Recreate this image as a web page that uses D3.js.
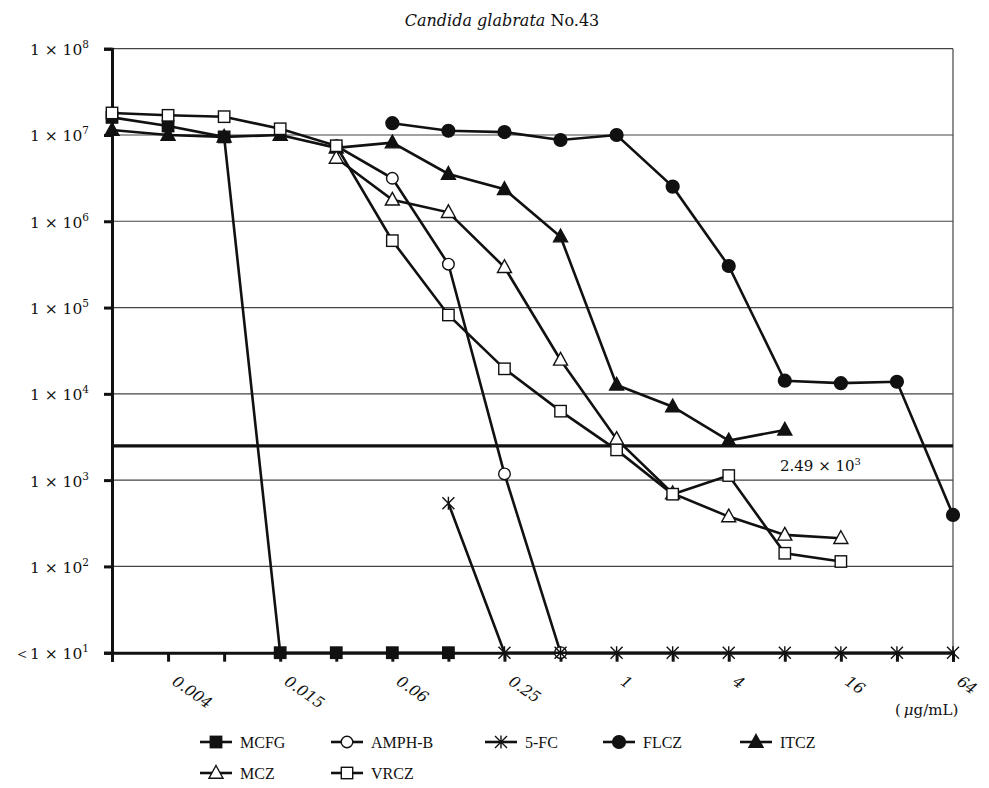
<!DOCTYPE html>
<html><head><meta charset="utf-8">
<script src="https://cdn.jsdelivr.net/npm/d3@7/dist/d3.min.js"></script>
<style>body{margin:0;background:#fff} svg{display:block}</style>
</head><body>
<svg id="chart" width="989" height="788"></svg>
<script>
// ---------- data ----------
const concentrations = ["0.002","0.004","0.008","0.015","0.03","0.06","0.125","0.25","0.5","1","2","4","8","16","32","64"];
const tickLabels = ["0.004","0.015","0.06","0.25","1","4","16","64"];
const yTickValues = [1e1,1e2,1e3,1e4,1e5,1e6,1e7,1e8];
const threshold = 2490;
const thresholdText = ["2.49 × 10", "3"];
const unitText = "g/mL";

const MCFG  = [1.6e7,1.27e7,9.5e6,10,10,10,10,null,null,null,null,null,null,null,null,null];
const AMPHB = [null,null,null,null,7.5e6,3.15e6,3.18e5,1.18e3,10,null,null,null,null,null,null,null];
const FC5   = [null,null,null,null,null,null,540,10,10,10,10,10,10,10,10,10];
const FLCZ  = [null,null,null,null,null,1.37e7,1.12e7,1.08e7,8.75e6,1.0e7,2.52e6,3.03e5,1.42e4,1.33e4,1.38e4,395];
const ITCZ  = [1.14e7,1.0e7,9.5e6,1.0e7,7.1e6,8.15e6,3.53e6,2.35e6,6.63e5,1.27e4,7.1e3,2.87e3,3.82e3,null,null,null];
const MCZ   = [null,null,null,null,5.4e6,1.77e6,1.27e6,2.93e5,2.47e4,2.98e3,700,378,232,212,null,null];
const VRCZ  = [1.8e7,1.69e7,1.63e7,1.18e7,7.5e6,5.96e5,8.2e4,1.95e4,6.3e3,2.24e3,687,1.13e3,142,114,null,null];

const seriesNames = ["MCFG","AMPH-B","5-FC","FLCZ","ITCZ","MCZ","VRCZ"];
const seriesValues = [MCFG,AMPHB,FC5,FLCZ,ITCZ,MCZ,VRCZ];
const seriesMarkers = ["squareFilled","circleOpen","star","circleFilled","triangleFilled","triangleOpen","squareOpen"];

// ---------- layout ----------
const svg = d3.select("#chart");
const FONT = "'DejaVu Serif',serif";
const LFONT = "'Liberation Serif','Times New Roman',serif";
const pLeft = 112, pRight = 953, pTop = 48.7, pBottom = 652.7;

const x = d3.scalePoint().domain(concentrations).range([pLeft, pRight]);
const y = d3.scaleLog().domain([10, 1e8]).range([pBottom, pTop]);

// title
const title = svg.append("text").attr("x", 502).attr("y", 26).attr("text-anchor","middle")
  .attr("font-family", FONT).attr("font-size", 16).attr("fill","#111");
title.append("tspan").attr("font-style","italic").text("Candida glabrata");
title.append("tspan").text(" No.43");

// gridlines
svg.append("g").selectAll("line").data(yTickValues.filter(v => v > 10)).join("line")
  .attr("x1", pLeft).attr("x2", pRight).attr("y1", d => y(d)).attr("y2", d => y(d))
  .attr("stroke", "#444").attr("stroke-width", 1.2);
// right border
svg.append("line").attr("x1", pRight).attr("x2", pRight).attr("y1", pTop).attr("y2", pBottom)
  .attr("stroke", "#444").attr("stroke-width", 1.2);

// threshold
svg.append("line").attr("x1", pLeft).attr("x2", pRight).attr("y1", y(threshold)).attr("y2", y(threshold))
  .attr("stroke", "#111").attr("stroke-width", 3.2);
const tl = svg.append("text").attr("x", 780).attr("y", y(threshold) + 25.5)
  .attr("font-family", FONT).attr("font-size", 15).attr("fill", "#111");
tl.append("tspan").text(thresholdText[0]);
tl.append("tspan").attr("font-size", 10).attr("dy", -6).text(thresholdText[1]);

// y axis
const yAxisG = svg.append("g").attr("transform", `translate(${pLeft},0)`)
  .call(d3.axisLeft(y).tickValues(yTickValues).tickSize(8).tickFormat(""));
yAxisG.select(".domain").attr("stroke", "#111").attr("stroke-width", 3);
yAxisG.selectAll(".tick line").attr("stroke", "#111").attr("stroke-width", 3);

const ylab = svg.append("g").selectAll("text").data(yTickValues).join("text")
  .attr("x", 89).attr("y", d => y(d) + 6.5).attr("text-anchor", "end")
  .attr("font-family", FONT).attr("font-size", 15.5).attr("fill", "#111");
ylab.each(function(d, i) {
  const t = d3.select(this);
  t.append("tspan").text((i === 0 ? "＜" : "") + "1 × 10");
  t.append("tspan").attr("font-size", 10.5).attr("dy", -7).text(Math.round(Math.log10(d)));
});

// x axis
const xAxisG = svg.append("g").attr("transform", `translate(0,${pBottom})`)
  .call(d3.axisBottom(x).tickSize(9).tickFormat(""));
xAxisG.select(".domain").attr("stroke", "#111").attr("stroke-width", 3);
xAxisG.selectAll(".tick line").attr("stroke", "#111").attr("stroke-width", 3);

svg.append("g").selectAll("text").data(tickLabels).join("text")
  .attr("transform", d => `translate(${x(d) + 3},${pBottom + 31}) rotate(35)`)
  .attr("font-family", FONT).attr("font-style", "italic").attr("font-size", 15.5).attr("fill", "#111")
  .text(d => d);

const unit = svg.append("text").attr("x", 895).attr("y", 715)
  .attr("font-family", FONT).attr("font-size", 15).attr("fill", "#111");
unit.append("tspan").text("(");
unit.append("tspan").attr("font-style", "italic").attr("dx", 3).text("μ");
unit.append("tspan").text(unitText + ")");

// markers
function drawMarker(sel, type) {
  const stroke = "#111";
  if (type === "squareFilled" || type === "squareOpen") {
    sel.append("rect").attr("x", -5.7).attr("y", -5.7).attr("width", 11.4).attr("height", 11.4)
      .attr("fill", type === "squareFilled" ? stroke : "#fff").attr("stroke", stroke).attr("stroke-width", 1.4);
  } else if (type === "circleFilled" || type === "circleOpen") {
    sel.append("circle").attr("r", type === "circleFilled" ? 6.4 : 5.8)
      .attr("fill", type === "circleFilled" ? stroke : "#fff").attr("stroke", stroke).attr("stroke-width", 1.4);
  } else if (type === "triangleFilled" || type === "triangleOpen") {
    sel.append("path").attr("d", "M0,-7.5L7,5.2L-7,5.2Z")
      .attr("fill", type === "triangleFilled" ? stroke : "#fff").attr("stroke", stroke).attr("stroke-width", 1.4);
  } else if (type === "star") {
    sel.append("path").attr("d", "M-6,-6L6,6M-6,6L6,-6M0,-6.5L0,6.5")
      .attr("fill", "none").attr("stroke", stroke).attr("stroke-width", 1.4);
  }
}

const line = d3.line().defined(d => d.v != null).x(d => x(d.c)).y(d => y(d.v));

seriesNames.forEach((name, si) => {
  const pts = seriesValues[si].map((v, i) => ({ c: concentrations[i], v }));
  const g = svg.append("g");
  g.append("path").attr("d", line(pts)).attr("fill", "none").attr("stroke", "#111").attr("stroke-width", 2.6);
  g.selectAll("g").data(pts.filter(d => d.v != null)).join("g")
    .attr("transform", d => `translate(${x(d.c)},${y(d.v)})`)
    .each(function() { drawMarker(d3.select(this), seriesMarkers[si]); });
});

// legend
const legendPos = [[200,742],[331,742],[485,742],[603,742],[740,742],[200,773],[331,773]];
seriesNames.forEach((name, si) => {
  const [lx, ly] = legendPos[si];
  const g = svg.append("g").attr("transform", `translate(${lx},${ly})`);
  g.append("line").attr("x1", 0).attr("x2", 32).attr("y1", 0).attr("y2", 0).attr("stroke", "#111").attr("stroke-width", 2.6);
  const m = g.append("g").attr("transform", "translate(16,0)");
  drawMarker(m, seriesMarkers[si]);
  g.append("text").attr("x", 40).attr("y", 5.5).attr("font-family", LFONT).attr("font-size", 16).attr("fill", "#111").text(name);
});
</script>
</body></html>
